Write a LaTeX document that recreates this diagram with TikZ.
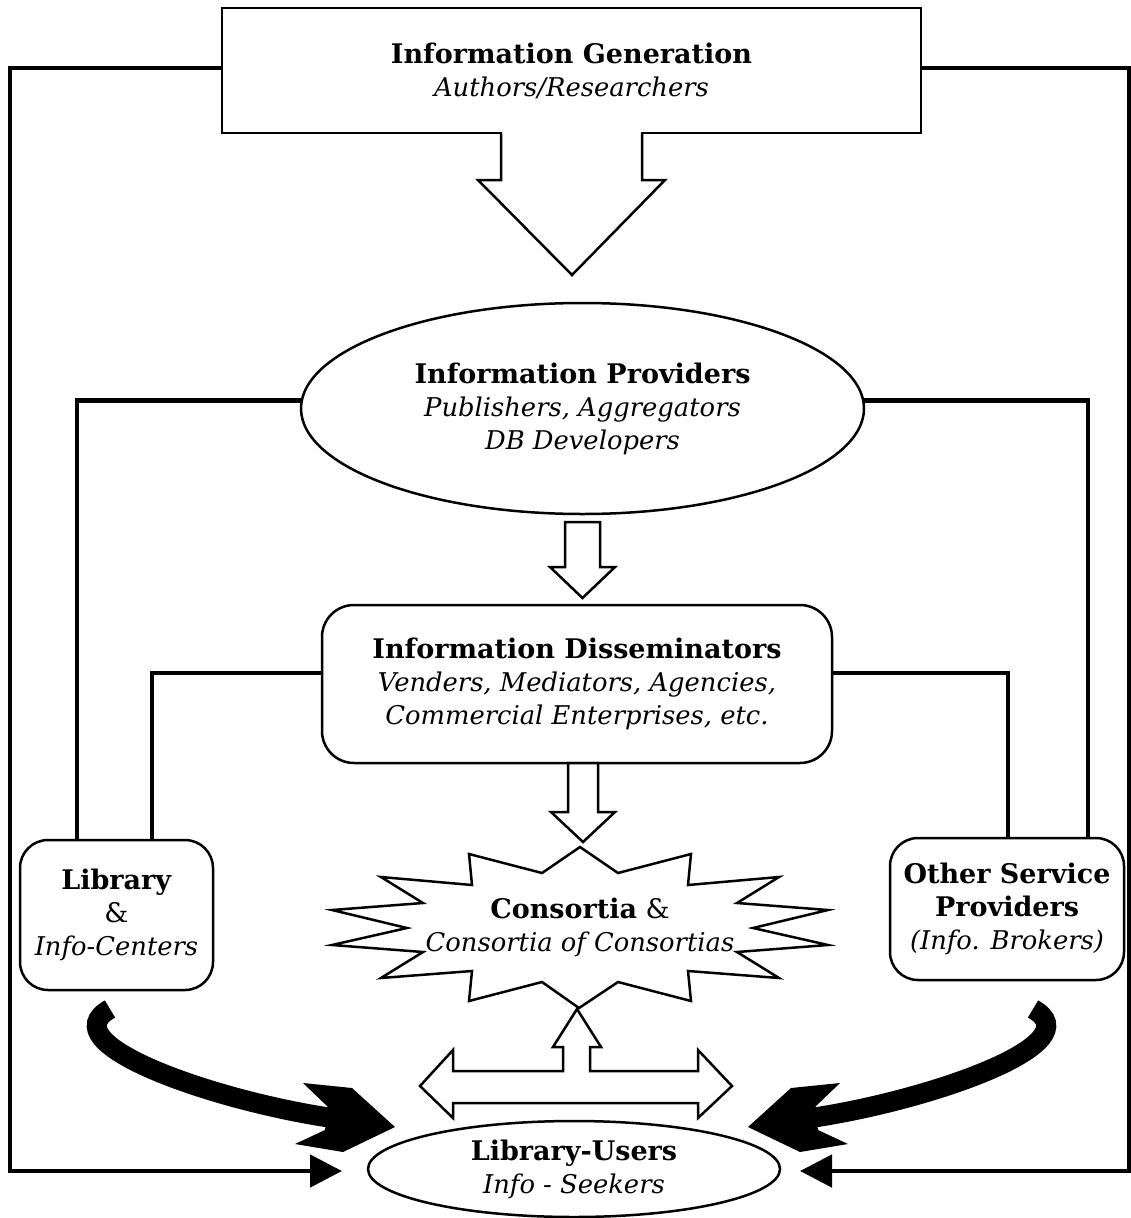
\documentclass[tikz,border=0pt]{standalone}
\usepackage{fontspec}
\setmainfont{DejaVu Serif}
\usetikzlibrary{shapes.geometric,arrows.meta,backgrounds}
\newcommand\itl[1]{{\fontsize{25.8}{33}\selectfont\itshape #1}}
\begin{document}
\begin{tikzpicture}[x=1pt,y=-1pt,
  txt/.style={align=center,font=\fontsize{27}{33}\selectfont},
  box/.style={txt,draw,line width=2.5pt,fill=white,inner sep=0pt},
  rbox/.style={box,rounded corners=28pt},
  oval/.style={box,ellipse},
  conn/.style={line width=4.8pt},
  hollow/.style={draw,line width=2.5pt,fill=white,line join=miter},
  bigarrow/.style={line width=20pt},
  tip/.style={-{Triangle[length=32pt,width=32pt]}}]
\useasboundingbox (0,0) rectangle (1131,1218);

% nodes
\node[box, minimum width=699pt, minimum height=125pt] (gen) at (571.5,70.5)
  {\textbf{Information Generation}\\\itl{Authors/Researchers}};
\node[oval, minimum width=563pt, minimum height=211pt] (prov) at (582.5,408.5)
  {\textbf{Information Providers}\\\itl{Publishers, Aggregators}\\\itl{DB Developers}};
\node[rbox, rounded corners=32pt, minimum width=510pt, minimum height=158pt] (dis) at (577,684)
  {\textbf{Information Disseminators}\\\itl{Venders, Mediators, Agencies,}\\\itl{Commercial Enterprises, etc.}};
\node[rbox, minimum width=193pt, minimum height=150pt] (lib) at (116.5,915)
  {\textbf{Library}\\\&\\\itl{Info-Centers}};
\node[rbox, minimum width=234pt, minimum height=142pt] (other) at (1007,909)
  {\textbf{Other Service}\\\textbf{Providers}\\\itl{(Info. Brokers)}};
\node[oval, minimum width=412pt, minimum height=96pt] (users) at (574,1169)
  {\textbf{Library-Users}\\\itl{Info - Seekers}};

% starburst
\draw[hollow] (580,847) -- (618,873) -- (691,854) -- (688,885) -- (779,877) -- (737,903)
  -- (828,910) -- (753,928) -- (828,945) -- (737,952) -- (779,978) -- (688,971)
  -- (691,1001) -- (618,982) -- (579,1008) -- (542,982) -- (469,1001) -- (472,971)
  -- (381,978) -- (423,952) -- (332,945) -- (407,928) -- (332,910) -- (423,903)
  -- (381,877) -- (472,885) -- (469,854) -- (542,873) -- cycle;
\node[txt] (cons) at (580,927) {\textbf{Consortia} \&\\\itl{Consortia of Consortias}};

% coordinates for connectors
\coordinate (xa) at (77,0);
\coordinate (xb) at (152,0);
\coordinate (xc) at (1008,0);
\coordinate (xd) at (1088,0);
\coordinate (lout) at (10,1171);
\coordinate (lin) at (342,1171);
\coordinate (rout) at (1129,1171);
\coordinate (rin) at (800,1171);

\begin{pgfonlayer}{background}
\draw[conn,tip] ([yshift=2.5pt]gen.west) -| (lout) -- (lin);
\draw[conn,tip] ([yshift=2.5pt]gen.east) -| (rout) -- (rin);
\draw[conn] (lib.north -| xa) |- ([yshift=8pt]prov.center);
\draw[conn] (lib.north -| xb) |- ([yshift=11pt]dis.center);
\draw[conn] (other.north -| xd) |- ([yshift=8pt]prov.center);
\draw[conn] (other.north -| xc) |- ([yshift=11pt]dis.center);
\end{pgfonlayer}

% hollow arrows
\fill[white] (502.2,130) rectangle (640.8,136);
\draw[line width=2.5pt,line join=miter] (501,133) -- (501,180) -- (478,180) -- (572,275)
  -- (665,180) -- (642,180) -- (642,133);
\draw[hollow] (565,522) -- (600,522) -- (600,567) -- (615,567) -- (582.5,598)
  -- (550,567) -- (565,567) -- cycle;
\draw[hollow] (568,763) -- (598,763) -- (598,812) -- (615,812) -- (583,842)
  -- (551,812) -- (568,812) -- cycle;
\draw[hollow] (420,1086) -- (453,1050) -- (453,1071) -- (563,1071) -- (563,1047)
  -- (553,1047) -- (577,1009) -- (601,1047) -- (590,1047) -- (590,1071)
  -- (698,1071) -- (698,1050) -- (732,1086) -- (698,1118) -- (698,1103)
  -- (453,1103) -- (453,1118) -- cycle;

% bold curved arrows
\draw[bigarrow] (110,1009) .. controls (49,1043) and (211,1100) .. (332,1118);
\fill (303,1083) -- (352,1088) -- (395,1127) -- (343,1152) -- (295,1144)
  -- (325,1130) -- (328,1107) -- cycle;
\draw[bigarrow] (1033,1009) .. controls (1094,1043) and (932,1100) .. (811,1118);
\fill (840,1083) -- (791,1088) -- (748,1127) -- (800,1152) -- (848,1144)
  -- (818,1130) -- (815,1107) -- cycle;
\end{tikzpicture}
\end{document}
